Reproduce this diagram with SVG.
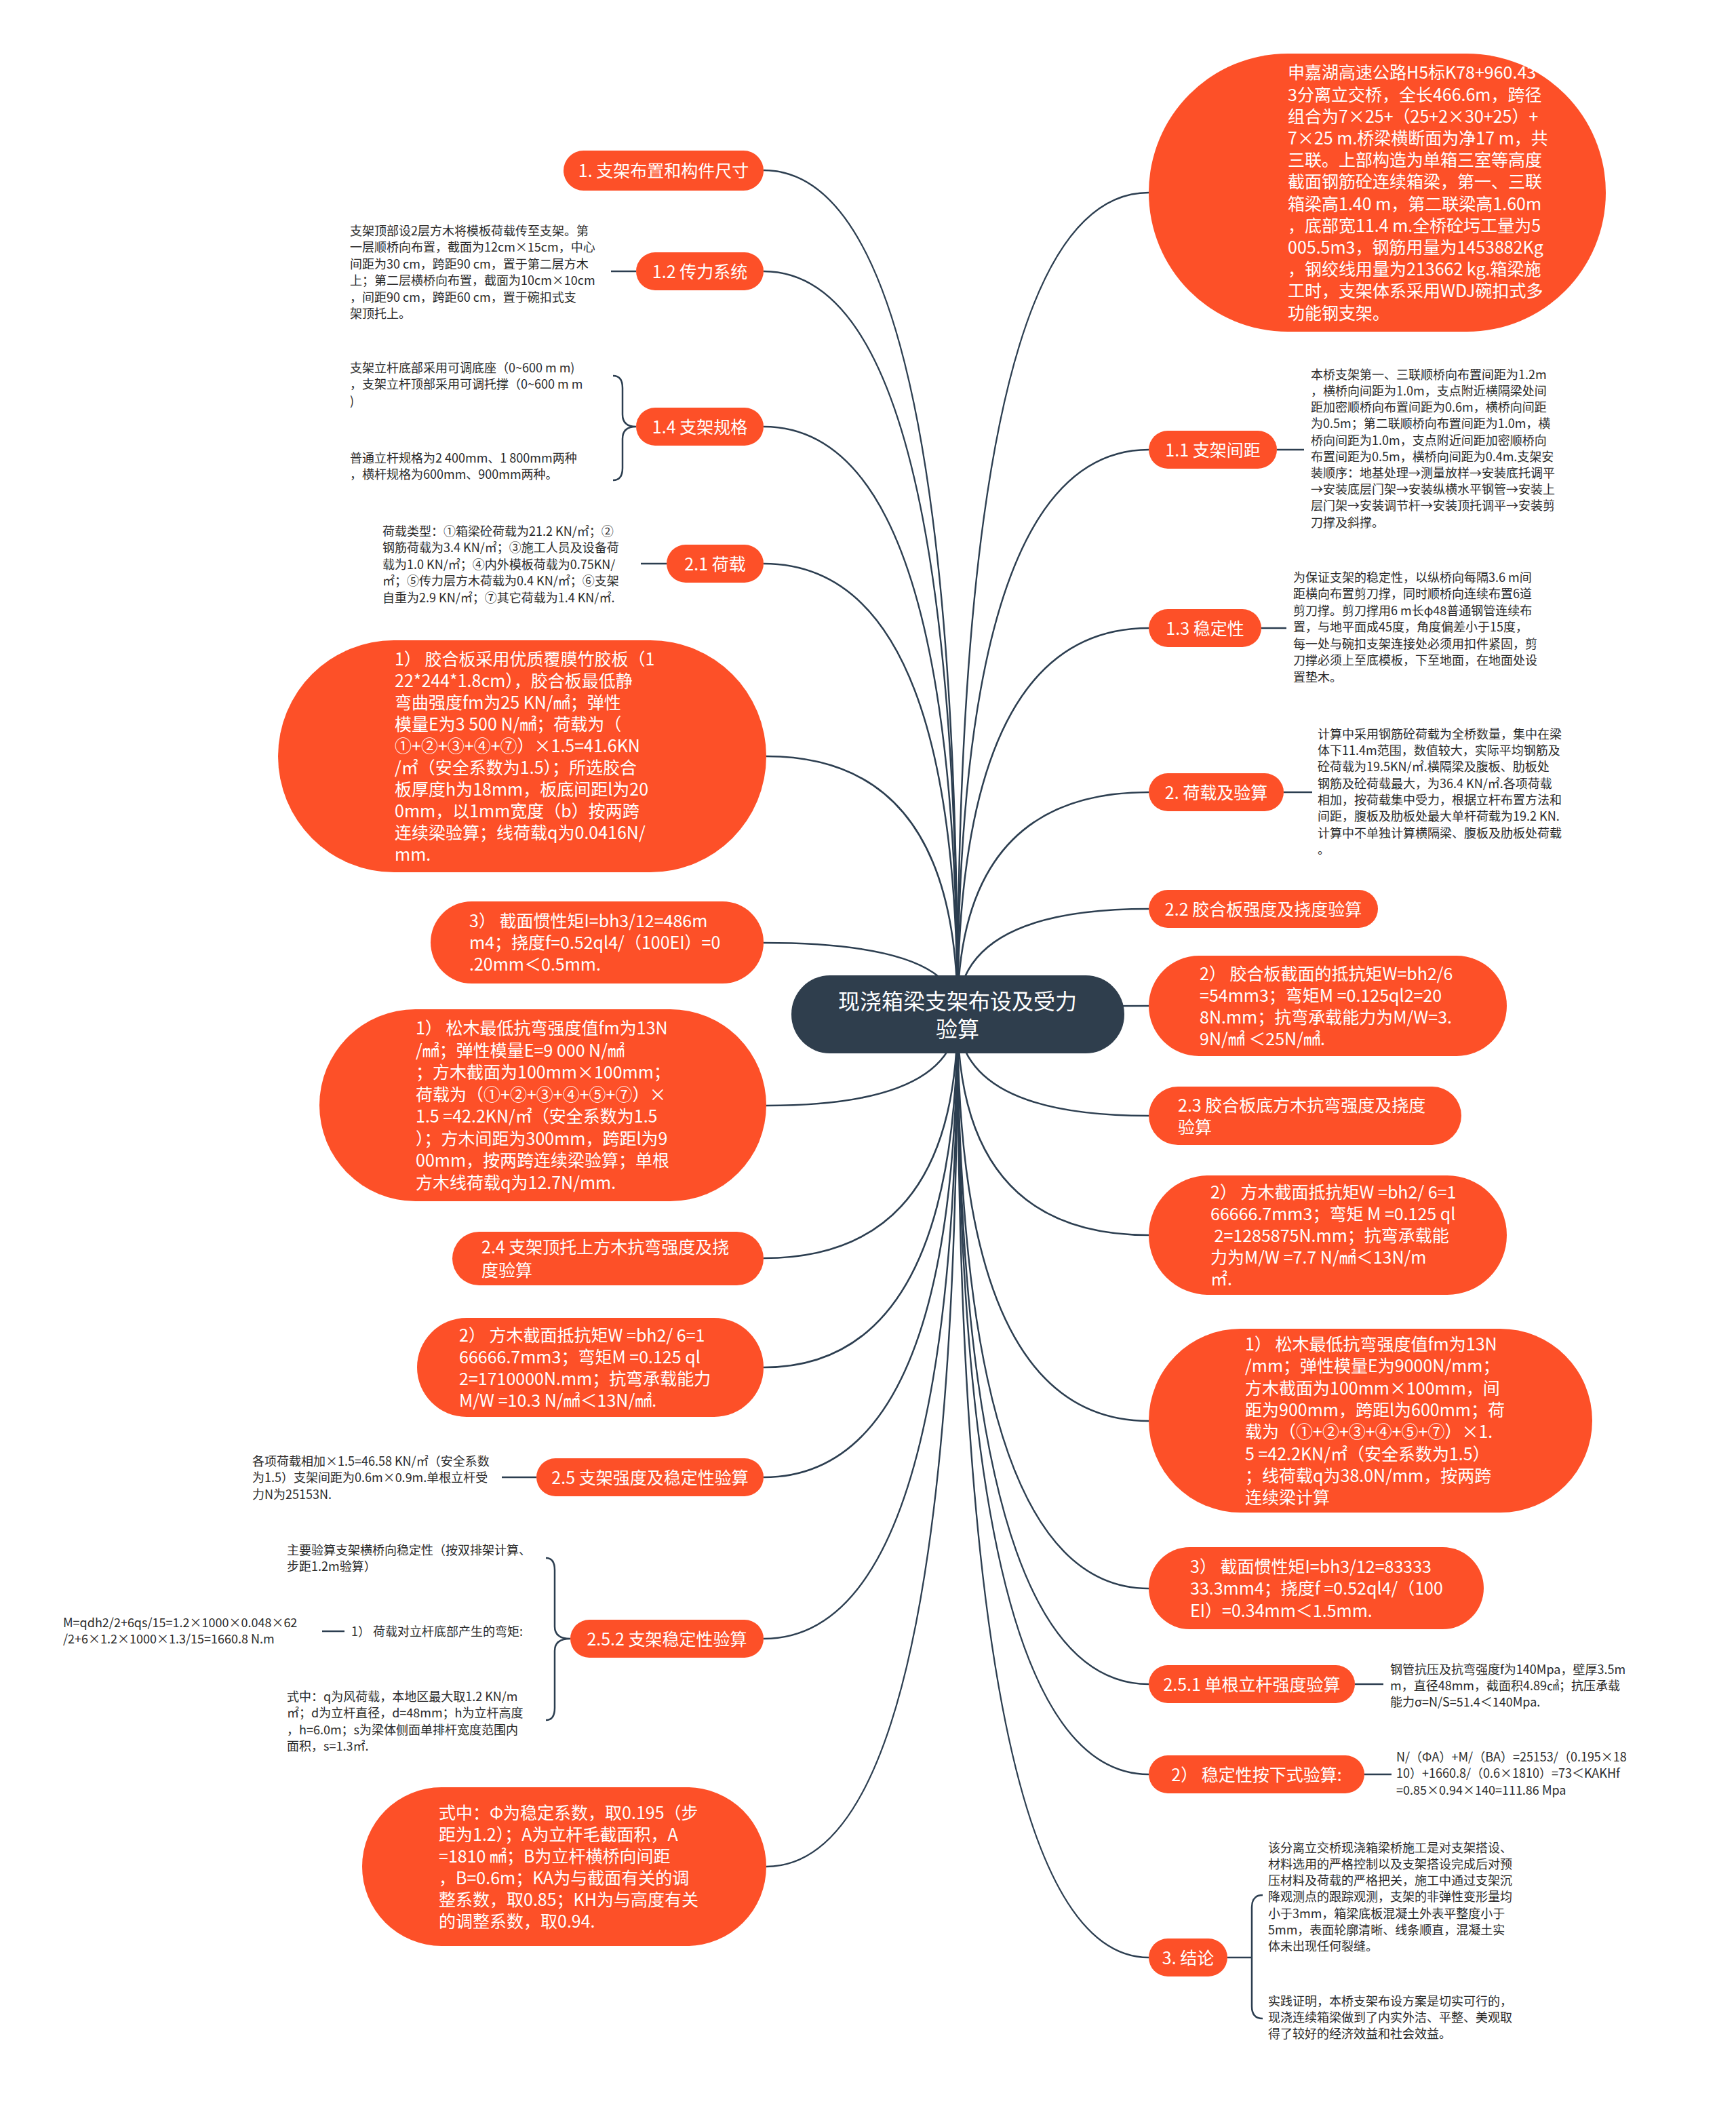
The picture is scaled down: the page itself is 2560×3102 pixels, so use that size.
<svg xmlns="http://www.w3.org/2000/svg" width="2560" height="3102" viewBox="0 0 2560 3102">
<style>
.n{fill:#fd5028}
.root{fill:#2f3e4d}
.t{font-family:"Noto Sans CJK SC","Noto Sans",sans-serif;fill:#ffffff;font-size:25px}
.tc{font-family:"Noto Sans CJK SC","Noto Sans",sans-serif;fill:#ffffff;font-size:25px;text-anchor:middle}
.s{font-family:"Noto Sans CJK SC","Noto Sans",sans-serif;fill:#2b2b2b;font-size:18px}
.c{fill:none;stroke:#2c3e50;stroke-width:2.5}
</style>
<rect width="2560" height="3102" fill="#ffffff"/>
<g id="connectors">
<path class="c" d="M1412 1495 Q1412 251 1126 251"/>
<path class="c" d="M1412 1495 Q1412 400 1126 400"/>
<path class="c" d="M1412 1495 Q1412 629 1126 629"/>
<path class="c" d="M1412 1495 Q1412 831 1126 831"/>
<path class="c" d="M1412 1495 Q1412 1115 1130 1115"/>
<path class="c" d="M1412 1495 Q1412 1390 1126 1390"/>
<path class="c" d="M1412 1495 Q1412 1630 1130 1630"/>
<path class="c" d="M1412 1495 Q1412 1855 1126 1855"/>
<path class="c" d="M1412 1495 Q1412 2016 1126 2016"/>
<path class="c" d="M1412 1495 Q1412 2178 1126 2178"/>
<path class="c" d="M1412 1495 Q1412 2416 1126 2416"/>
<path class="c" d="M1412 1495 Q1412 2752 1130 2752"/>
<path class="c" d="M1412 1495 Q1412 284 1694 284"/>
<path class="c" d="M1412 1495 Q1412 663 1694 663"/>
<path class="c" d="M1412 1495 Q1412 926 1694 926"/>
<path class="c" d="M1412 1495 Q1412 1168 1694 1168"/>
<path class="c" d="M1412 1495 Q1412 1340 1694 1340"/>
<path class="c" d="M1412 1495 Q1412 1483 1694 1483"/>
<path class="c" d="M1412 1495 Q1412 1645 1694 1645"/>
<path class="c" d="M1412 1495 Q1412 1821 1694 1821"/>
<path class="c" d="M1412 1495 Q1412 2095 1694 2095"/>
<path class="c" d="M1412 1495 Q1412 2342 1694 2342"/>
<path class="c" d="M1412 1495 Q1412 2483 1694 2483"/>
<path class="c" d="M1412 1495 Q1412 2616 1694 2616"/>
<path class="c" d="M1412 1495 Q1412 2886 1694 2886"/>
<path class="c" d="M901 400 L938 400"/>
<path class="c" d="M904 554 Q918 554 918 572 L918 611 Q918 629 938 629 Q918 629 918 647 L918 690 Q918 708 904 708"/>
<path class="c" d="M945 831 L983 831"/>
<path class="c" d="M740 2178 L791 2178"/>
<path class="c" d="M805 2297 Q818 2297 818 2315 L818 2398 Q818 2416 841 2416 Q818 2416 818 2434 L818 2518 Q818 2536 805 2536"/>
<path class="c" d="M475 2405 L508 2405"/>
<path class="c" d="M1883 663 L1923 663"/>
<path class="c" d="M1860 926 L1897 926"/>
<path class="c" d="M1893 1168 L1935 1168"/>
<path class="c" d="M1998 2483 L2040 2483"/>
<path class="c" d="M2012 2616 L2052 2616"/>
<path class="c" d="M1810 2886 L1846 2886 M1862 2794 Q1846 2794 1846 2812 L1846 2958 Q1846 2976 1862 2976"/>
</g>
<g id="root">
<rect class="root" x="1167" y="1438" width="491" height="115" rx="57"/>
<text font-family="Noto Sans CJK SC, Noto Sans, sans-serif" font-size="32" fill="#ffffff" text-anchor="middle"><tspan x="1412" y="1488">现浇箱梁支架布设及受力</tspan><tspan x="1412" y="1529">验算</tspan></text>
</g>
<g id="n1">
<rect class="n" x="831" y="222" width="295" height="59" rx="29.5"/>
<text class="tc" x="978.5" y="261">1. 支架布置和构件尺寸</text>
</g>
<g id="n12">
<rect class="n" x="938" y="372" width="188" height="56" rx="28"/>
<text class="tc" x="1032" y="409.5">1.2 传力系统</text>
<text class="s" y="346.8"><tspan x="516">支架顶部设2层方木将模板荷载传至支架。第</tspan><tspan x="516" dy="24.5">一层顺桥向布置，截面为12cm×15cm，中心</tspan><tspan x="516" dy="24.5">间距为30 cm，跨距90 cm，置于第二层方木</tspan><tspan x="516" dy="24.5">上；第二层横桥向布置，截面为10cm×10cm</tspan><tspan x="516" dy="24.5">，间距90 cm，跨距60 cm，置于碗扣式支</tspan><tspan x="516" dy="24.5">架顶托上。</tspan></text>
</g>
<g id="n14">
<rect class="n" x="938" y="601" width="188" height="56" rx="28"/>
<text class="tc" x="1032" y="638.5">1.4 支架规格</text>
<text class="s" y="548.8"><tspan x="516">支架立杆底部采用可调底座（0~600 m m)</tspan><tspan x="516" dy="24.5">，支架立杆顶部采用可调托撑（0~600 m m</tspan><tspan x="516" dy="24.5">)</tspan></text>
<text class="s" y="681.8"><tspan x="516">普通立杆规格为2 400mm、1 800mm两种</tspan><tspan x="516" dy="24.5">，横杆规格为600mm、900mm两种。</tspan></text>
</g>
<g id="n21">
<rect class="n" x="983" y="803" width="143" height="56" rx="28"/>
<text class="tc" x="1054.5" y="840.5">2.1 荷载</text>
<text class="s" y="789.8"><tspan x="564">荷载类型：①箱梁砼荷载为21.2 KN/㎡；②</tspan><tspan x="564" dy="24.5">钢筋荷载为3.4 KN/㎡；③施工人员及设备荷</tspan><tspan x="564" dy="24.5">载为1.0 KN/㎡；④内外模板荷载为0.75KN/</tspan><tspan x="564" dy="24.5">㎡；⑤传力层方木荷载为0.4 KN/㎡；⑥支架</tspan><tspan x="564" dy="24.5">自重为2.9 KN/㎡；⑦其它荷载为1.4 KN/㎡.</tspan></text>
</g>
<g id="nE">
<rect class="n" x="410" y="944" width="720" height="342" rx="171"/>
<text class="t" y="980.5"><tspan x="582">1） 胶合板采用优质覆膜竹胶板（1</tspan><tspan x="582" dy="32">22*244*1.8cm），胶合板最低静</tspan><tspan x="582" dy="32">弯曲强度fm为25 KN/㎟；弹性</tspan><tspan x="582" dy="32">模量E为3 500 N/㎟；荷载为（</tspan><tspan x="582" dy="32">①+②+③+④+⑦）×1.5=41.6KN</tspan><tspan x="582" dy="32">/㎡（安全系数为1.5）；所选胶合</tspan><tspan x="582" dy="32">板厚度h为18mm，板底间距l为20</tspan><tspan x="582" dy="32">0mm，以1mm宽度（b）按两跨</tspan><tspan x="582" dy="32">连续梁验算；线荷载q为0.0416N/</tspan><tspan x="582" dy="32">mm.</tspan></text>
</g>
<g id="nF">
<rect class="n" x="635" y="1329" width="491" height="121" rx="60.5"/>
<text class="t" y="1367"><tspan x="692">3） 截面惯性矩I=bh3/12=486m</tspan><tspan x="692" dy="32">m4；挠度f=0.52ql4/（100EI）=0</tspan><tspan x="692" dy="32">.20mm＜0.5mm.</tspan></text>
</g>
<g id="nG">
<rect class="n" x="471" y="1488" width="659" height="283" rx="141.5"/>
<text class="t" y="1525"><tspan x="613">1） 松木最低抗弯强度值fm为13N</tspan><tspan x="613" dy="32.5">/㎟；弹性模量E=9 000 N/㎟</tspan><tspan x="613" dy="32.5">；方木截面为100mm×100mm；</tspan><tspan x="613" dy="32.5">荷载为（①+②+③+④+⑤+⑦）×</tspan><tspan x="613" dy="32.5">1.5 =42.2KN/㎡（安全系数为1.5</tspan><tspan x="613" dy="32.5">）；方木间距为300mm，跨距l为9</tspan><tspan x="613" dy="32.5">00mm，按两跨连续梁验算；单根</tspan><tspan x="613" dy="32.5">方木线荷载q为12.7N/mm.</tspan></text>
</g>
<g id="nH">
<rect class="n" x="667" y="1816" width="459" height="79" rx="39.5"/>
<text class="t" y="1848"><tspan x="710">2.4 支架顶托上方木抗弯强度及挠</tspan><tspan x="710" dy="34">度验算</tspan></text>
</g>
<g id="nI">
<rect class="n" x="615" y="1943" width="511" height="146" rx="73"/>
<text class="t" y="1977.5"><tspan x="677">2） 方木截面抵抗矩W =bh2/ 6=1</tspan><tspan x="677" dy="32">66666.7mm3；弯矩M =0.125 ql</tspan><tspan x="677" dy="32">2=1710000N.mm；抗弯承载能力</tspan><tspan x="677" dy="32">M/W =10.3 N/㎟＜13N/㎟.</tspan></text>
</g>
<g id="n25">
<rect class="n" x="791" y="2150" width="335" height="56" rx="28"/>
<text class="tc" x="958.5" y="2187.5">2.5 支架强度及稳定性验算</text>
<text class="s" y="2160.8"><tspan x="372">各项荷载相加×1.5=46.58 KN/㎡（安全系数</tspan><tspan x="372" dy="24.5">为1.5）支架间距为0.6m×0.9m.单根立杆受</tspan><tspan x="372" dy="24.5">力N为25153N.</tspan></text>
</g>
<g id="n252">
<rect class="n" x="841" y="2388" width="285" height="56" rx="28"/>
<text class="tc" x="983.5" y="2425.5">2.5.2 支架稳定性验算</text>
<text class="s" y="2291.8"><tspan x="423">主要验算支架横桥向稳定性（按双排架计算、</tspan><tspan x="423" dy="24.5">步距1.2m验算）</tspan></text>
<text class="s" x="518" y="2411.8">1） 荷载对立杆底部产生的弯矩:</text>
<text class="s" y="2398.8"><tspan x="93">M=qdh2/2+6qs/15=1.2×1000×0.048×62</tspan><tspan x="93" dy="24.5">/2+6×1.2×1000×1.3/15=1660.8 N.m</tspan></text>
<text class="s" y="2507.8"><tspan x="423">式中：q为风荷载，本地区最大取1.2 KN/m</tspan><tspan x="423" dy="24.5">㎡；d为立杆直径，d=48mm；h为立杆高度</tspan><tspan x="423" dy="24.5">，h=6.0m；s为梁体侧面单排杆宽度范围内</tspan><tspan x="423" dy="24.5">面积，s=1.3㎡.</tspan></text>
</g>
<g id="nL">
<rect class="n" x="534" y="2635" width="596" height="234" rx="117"/>
<text class="t" y="2681.5"><tspan x="647">式中：Φ为稳定系数，取0.195（步</tspan><tspan x="647" dy="32">距为1.2）；A为立杆毛截面积，A</tspan><tspan x="647" dy="32">=1810 ㎟；B为立杆横桥向间距</tspan><tspan x="647" dy="32">，B=0.6m；KA为与截面有关的调</tspan><tspan x="647" dy="32">整系数，取0.85；KH为与高度有关</tspan><tspan x="647" dy="32">的调整系数，取0.94.</tspan></text>
</g>
<g id="r1">
<rect class="n" x="1694" y="79" width="674" height="410" rx="205"/>
<text class="t" y="116.4"><tspan x="1899">申嘉湖高速公路H5标K78+960.43</tspan><tspan x="1899" dy="32.2">3分离立交桥，全长466.6m，跨径</tspan><tspan x="1899" dy="32.2">组合为7×25+（25+2×30+25）+</tspan><tspan x="1899" dy="32.2">7×25 m.桥梁横断面为净17 m，共</tspan><tspan x="1899" dy="32.2">三联。上部构造为单箱三室等高度</tspan><tspan x="1899" dy="32.2">截面钢筋砼连续箱梁，第一、三联</tspan><tspan x="1899" dy="32.2">箱梁高1.40 m，第二联梁高1.60m</tspan><tspan x="1899" dy="32.2">，底部宽11.4 m.全桥砼圬工量为5</tspan><tspan x="1899" dy="32.2">005.5m3，钢筋用量为1453882Kg</tspan><tspan x="1899" dy="32.2">，钢绞线用量为213662 kg.箱梁施</tspan><tspan x="1899" dy="32.2">工时，支架体系采用WDJ碗扣式多</tspan><tspan x="1899" dy="32.2">功能钢支架。</tspan></text>
</g>
<g id="r11">
<rect class="n" x="1694" y="635" width="189" height="56" rx="28"/>
<text class="tc" x="1788.5" y="672.5">1.1 支架间距</text>
<text class="s" y="558.8"><tspan x="1933">本桥支架第一、三联顺桥向布置间距为1.2m</tspan><tspan x="1933" dy="24.2">，横桥向间距为1.0m，支点附近横隔梁处间</tspan><tspan x="1933" dy="24.2">距加密顺桥向布置间距为0.6m，横桥向间距</tspan><tspan x="1933" dy="24.2">为0.5m；第二联顺桥向布置间距为1.0m，横</tspan><tspan x="1933" dy="24.2">桥向间距为1.0m，支点附近间距加密顺桥向</tspan><tspan x="1933" dy="24.2">布置间距为0.5m，横桥向间距为0.4m.支架安</tspan><tspan x="1933" dy="24.2">装顺序：地基处理→测量放样→安装底托调平</tspan><tspan x="1933" dy="24.2">→安装底层门架→安装纵横水平钢管→安装上</tspan><tspan x="1933" dy="24.2">层门架→安装调节杆→安装顶托调平→安装剪</tspan><tspan x="1933" dy="24.2">刀撑及斜撑。</tspan></text>
</g>
<g id="r13">
<rect class="n" x="1694" y="898" width="166" height="56" rx="28"/>
<text class="tc" x="1777" y="935.5">1.3 稳定性</text>
<text class="s" y="857.8"><tspan x="1907">为保证支架的稳定性，以纵桥向每隔3.6 m间</tspan><tspan x="1907" dy="24.5">距横向布置剪刀撑，同时顺桥向连续布置6道</tspan><tspan x="1907" dy="24.5">剪刀撑。剪刀撑用6 m长φ48普通钢管连续布</tspan><tspan x="1907" dy="24.5">置，与地平面成45度，角度偏差小于15度，</tspan><tspan x="1907" dy="24.5">每一处与碗扣支架连接处必须用扣件紧固，剪</tspan><tspan x="1907" dy="24.5">刀撑必须上至底模板，下至地面，在地面处设</tspan><tspan x="1907" dy="24.5">置垫木。</tspan></text>
</g>
<g id="r2">
<rect class="n" x="1694" y="1140" width="199" height="56" rx="28"/>
<text class="tc" x="1793.5" y="1177.5">2. 荷载及验算</text>
<text class="s" y="1088.8"><tspan x="1943">计算中采用钢筋砼荷载为全桥数量，集中在梁</tspan><tspan x="1943" dy="24.3">体下11.4m范围，数值较大，实际平均钢筋及</tspan><tspan x="1943" dy="24.3">砼荷载为19.5KN/㎡.横隔梁及腹板、肋板处</tspan><tspan x="1943" dy="24.3">钢筋及砼荷载最大，为36.4 KN/㎡.各项荷载</tspan><tspan x="1943" dy="24.3">相加，按荷载集中受力，根据立杆布置方法和</tspan><tspan x="1943" dy="24.3">间距，腹板及肋板处最大单杆荷载为19.2 KN.</tspan><tspan x="1943" dy="24.3">计算中不单独计算横隔梁、腹板及肋板处荷载</tspan><tspan x="1943" dy="24.3">。</tspan></text>
</g>
<g id="r22">
<rect class="n" x="1694" y="1312" width="338" height="56" rx="28"/>
<text class="tc" x="1863" y="1349.5">2.2 胶合板强度及挠度验算</text>
</g>
<g id="r6">
<rect class="n" x="1694" y="1409" width="528" height="148" rx="74"/>
<text class="t" y="1444.5"><tspan x="1769">2） 胶合板截面的抵抗矩W=bh2/6</tspan><tspan x="1769" dy="32">=54mm3；弯矩M =0.125ql2=20</tspan><tspan x="1769" dy="32">8N.mm；抗弯承载能力为M/W=3.</tspan><tspan x="1769" dy="32">9N/㎟ ＜25N/㎟.</tspan></text>
</g>
<g id="r23">
<rect class="n" x="1694" y="1602" width="461" height="86" rx="43"/>
<text class="t" y="1638.5"><tspan x="1737">2.3 胶合板底方木抗弯强度及挠度</tspan><tspan x="1737" dy="32">验算</tspan></text>
</g>
<g id="r8">
<rect class="n" x="1694" y="1733" width="528" height="176" rx="88"/>
<text class="t" y="1766.5"><tspan x="1785">2） 方木截面抵抗矩W =bh2/ 6=1</tspan><tspan x="1785" dy="32">66666.7mm3；弯矩 M =0.125 ql</tspan><tspan x="1785" dy="32"> 2=1285875N.mm；抗弯承载能</tspan><tspan x="1785" dy="32">力为M/W =7.7 N/㎟＜13N/m</tspan><tspan x="1785" dy="32">㎡.</tspan></text>
</g>
<g id="r9">
<rect class="n" x="1694" y="1959" width="654" height="271" rx="135.5"/>
<text class="t" y="1991"><tspan x="1836">1） 松木最低抗弯强度值fm为13N</tspan><tspan x="1836" dy="32.3">/mm；弹性模量E为9000N/mm；</tspan><tspan x="1836" dy="32.3">方木截面为100mm×100mm，间</tspan><tspan x="1836" dy="32.3">距为900mm，跨距l为600mm；荷</tspan><tspan x="1836" dy="32.3">载为（①+②+③+④+⑤+⑦）×1.</tspan><tspan x="1836" dy="32.3">5 =42.2KN/㎡（安全系数为1.5）</tspan><tspan x="1836" dy="32.3">；线荷载q为38.0N/mm，按两跨</tspan><tspan x="1836" dy="32.3">连续梁计算</tspan></text>
</g>
<g id="r10">
<rect class="n" x="1694" y="2281" width="494" height="121" rx="60.5"/>
<text class="t" y="2318.5"><tspan x="1755">3） 截面惯性矩I=bh3/12=83333</tspan><tspan x="1755" dy="32.5">33.3mm4；挠度f =0.52ql4/（100</tspan><tspan x="1755" dy="32.5">EI）=0.34mm＜1.5mm.</tspan></text>
</g>
<g id="r251">
<rect class="n" x="1694" y="2455" width="304" height="56" rx="28"/>
<text class="tc" x="1846" y="2492.5">2.5.1 单根立杆强度验算</text>
<text class="s" y="2467.8"><tspan x="2050">钢管抗压及抗弯强度f为140Mpa，壁厚3.5m</tspan><tspan x="2050" dy="24.2">m，直径48mm，截面积4.89㎠；抗压承载</tspan><tspan x="2050" dy="24.2">能力σ=N/S=51.4＜140Mpa.</tspan></text>
</g>
<g id="r12">
<rect class="n" x="1694" y="2588" width="318" height="56" rx="28"/>
<text class="tc" x="1853" y="2625.5">2） 稳定性按下式验算:</text>
<text class="s" y="2596.8"><tspan x="2059">N/（ΦA）+M/（BA）=25153/（0.195×18</tspan><tspan x="2059" dy="24.5">10）+1660.8/（0.6×1810）=73＜KAKHf</tspan><tspan x="2059" dy="24.5">=0.85×0.94×140=111.86 Mpa</tspan></text>
</g>
<g id="r3">
<rect class="n" x="1694" y="2858" width="116" height="56" rx="28"/>
<text class="tc" x="1752" y="2895.5">3. 结论</text>
<text class="s" y="2730.8"><tspan x="1870">该分离立交桥现浇箱梁桥施工是对支架搭设、</tspan><tspan x="1870" dy="24.2">材料选用的严格控制以及支架搭设完成后对预</tspan><tspan x="1870" dy="24.2">压材料及荷载的严格把关，施工中通过支架沉</tspan><tspan x="1870" dy="24.2">降观测点的跟踪观测，支架的非弹性变形量均</tspan><tspan x="1870" dy="24.2">小于3mm，箱梁底板混凝土外表平整度小于</tspan><tspan x="1870" dy="24.2">5mm，表面轮廓清晰、线条顺直，混凝土实</tspan><tspan x="1870" dy="24.2">体未出现任何裂缝。</tspan></text>
<text class="s" y="2956.8"><tspan x="1870">实践证明，本桥支架布设方案是切实可行的，</tspan><tspan x="1870" dy="24.2">现浇连续箱梁做到了内实外洁、平整、美观取</tspan><tspan x="1870" dy="24.2">得了较好的经济效益和社会效益。</tspan></text>
</g>
</svg>
